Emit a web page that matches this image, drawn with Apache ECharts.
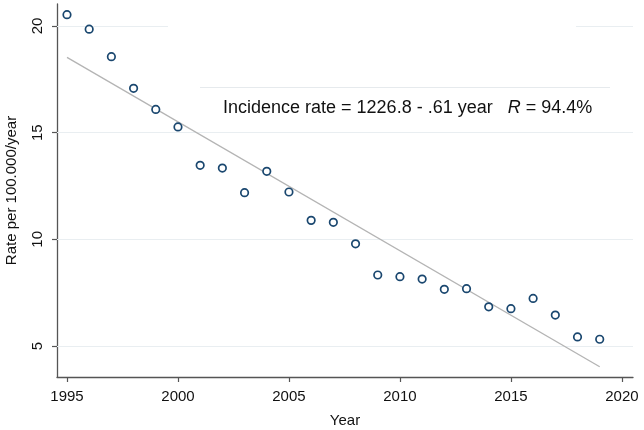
<!DOCTYPE html>
<html>
<head>
<meta charset="utf-8">
<script src="https://cdn.jsdelivr.net/npm/echarts@6/dist/echarts.min.js"></script>
<style>html,body{margin:0;padding:0;background:#fff}#c{width:644px;height:430px}</style>
</head>
<body>
<div id="c"></div>
<script>
var years = [1995,1996,1997,1998,1999,2000,2001,2002,2003,2004,2005,2006,2007,2008,2009,2010,2011,2012,2013,2014,2015,2016,2017,2018,2019];
var rates = [20.53,19.85,18.56,17.08,16.09,15.27,13.47,13.34,12.19,13.19,12.22,10.89,10.80,9.79,8.33,8.25,8.14,7.66,7.69,6.84,6.75,7.23,6.45,5.43,5.32];
var fitYears = [1995, 2019];
var fitValues = [18.53, 4.03];
var xTicks = [1995,2000,2005,2010,2015,2020];
var yTicks = [5,10,15,20];
var annotation = 'Incidence rate = 1226.8 - .61 year';
var rLabel = 'R';
var rValue = ' = 94.4%';

var chart = echarts.init(document.getElementById('c'), null, {renderer: 'canvas'});
var font = 'Liberation Sans, Arial, sans-serif';
chart.setOption({
  animation: false,
  backgroundColor: '#ffffff',
  grid: {left: 57, right: 11, top: 4, bottom: 53, containLabel: false, outerBoundsMode: 'none'},
  xAxis: {
    type: 'value', min: 1994.55, max: 2020.5,
    name: 'Year', nameLocation: 'middle', nameGap: 36,
    nameTextStyle: {fontFamily: font, fontSize: 15, color: '#111'},
    axisLine: {lineStyle: {color: '#555', width: 1.3}},
    axisTick: {length: 5, lineStyle: {color: '#555', width: 1.2}, customValues: xTicks},
    axisLabel: {fontFamily: font, fontSize: 15, color: '#111', margin: 12, customValues: xTicks,
      formatter: function (v) { return String(v); }},
    splitLine: {show: false}
  },
  yAxis: {
    type: 'value', min: 3.55, max: 21.03,
    name: 'Rate per 100.000/year', nameLocation: 'middle', nameGap: 38, nameRotate: 90,
    nameTextStyle: {fontFamily: font, fontSize: 15, color: '#111'},
    axisLine: {show: true, lineStyle: {color: '#555', width: 1.3}},
    axisTick: {show: true, length: 5, lineStyle: {color: '#555', width: 1.2}, customValues: yTicks},
    axisLabel: {fontFamily: font, fontSize: 15, color: '#111', margin: 12, rotate: 90, customValues: yTicks,
      formatter: function (v) { return String(v); }},
    splitLine: {show: false}
  },
  graphic: [
    {type: 'rect', z: 5, shape: {x: 168, y: 20, width: 408, height: 12}, style: {fill: '#ffffff'}},
    {type: 'rect', z: 5, shape: {x: 233, y: 88, width: 370, height: 44}, style: {fill: '#ffffff'}},
    {type: 'line', z: 6, shape: {x1: 200, y1: 87.5, x2: 610, y2: 87.5}, style: {stroke: '#e6eaed', lineWidth: 1}},
    {type: 'text', z: 7, x: 223, y: 108, style: {
      text: '{a|' + annotation + '}{s|   }{r|' + rLabel + '}{a|' + rValue + '}',
      verticalAlign: 'middle',
      rich: {
        a: {fontFamily: font, fontSize: 18, fill: '#111'},
        s: {fontFamily: font, fontSize: 18},
        r: {fontFamily: font, fontSize: 18, fontStyle: 'italic', fill: '#111'}
      }
    }}
  ],
  series: [
    {
      type: 'line', data: fitYears.map(function (y, i) { return [y, fitValues[i]]; }),
      showSymbol: false, symbol: 'none', silent: true, z: 3,
      lineStyle: {color: '#b4b4b4', width: 1.3},
      markLine: {
        silent: true, symbol: 'none', label: {show: false}, z: 1,
        lineStyle: {color: '#e9eef1', width: 1, type: 'solid'},
        data: yTicks.map(function (v) { return {yAxis: v}; })
      }
    },
    {
      type: 'scatter', z: 4,
      data: years.map(function (y, i) { return [y, rates[i]]; }),
      symbol: 'circle', symbolSize: 7.5,
      itemStyle: {color: '#ffffff', borderColor: '#1a476f', borderWidth: 1.7, opacity: 1}
    }
  ]
});
</script>
</body>
</html>
